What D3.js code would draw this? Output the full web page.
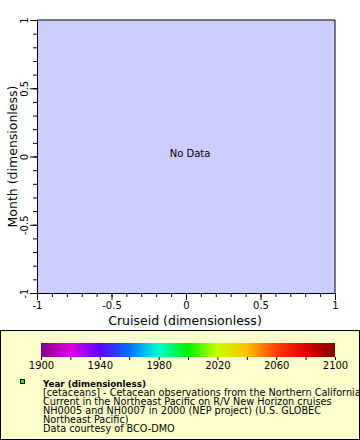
<!DOCTYPE html>
<html><head><meta charset="utf-8">
<script src="https://cdn.jsdelivr.net/npm/d3@7"></script>
<style>body{margin:0;background:#fff}svg{display:block}text{font-family:"DejaVu Sans",sans-serif}</style>
</head><body>
<svg id="c" width="360" height="440"></svg>
<script>
const xDomain = [-1, 1];
const yDomain = [-1, 1];
const xTicks = [-1, -0.5, 0, 0.5, 1];
const yTicks = [-1, -0.5, 0, 0.5, 1];
const xLabel = "Cruiseid (dimensionless)";
const yLabel = "Month (dimensionless)";
const noDataText = "No Data";
const colorYears = [1900, 1920, 1940, 1960, 1980, 2000, 2020, 2040, 2060, 2080, 2100];
const colorStops = ["#800080", "#e000e0", "#6000ff", "#0070ff", "#00ffd0", "#00f000", "#c8ff00", "#ffc000", "#ff4000", "#e00000", "#800000"];
const colorTickLabels = [1900, 1940, 1980, 2020, 2060, 2100];
const legendTitle = "Year (dimensionless)";
const legendLines = [
  "[cetaceans] - Cetacean observations from the Northern California",
  "Current in the Northeast Pacific on R/V New Horizon cruises",
  "NH0005 and NH0007 in 2000 (NEP project) (U.S. GLOBEC",
  "Northeast Pacific)",
  "Data courtesy of BCO-DMO"
];

const svg = d3.select("#c");
const L = 37, R = 335, T = 20, B = 293;
const x = d3.scaleLinear().domain(xDomain).range([L, R]);
const y = d3.scaleLinear().domain(yDomain).range([B, T]);

svg.append("rect").attr("x", L).attr("y", T).attr("width", R - L).attr("height", B - T).attr("fill", "#ccccff");

// minor ticks
const xMinor = d3.range(-10, 11).map(d => d / 10);
const yMinor = d3.range(-10, 11).map(d => d / 10);
svg.append("g").attr("transform", `translate(0,${B})`)
  .call(d3.axisBottom(x).tickValues(xMinor).tickSize(4).tickFormat(""))
  .call(g => g.select(".domain").remove());
svg.append("g").attr("transform", `translate(${L},0)`)
  .call(d3.axisLeft(y).tickValues(yMinor).tickSize(4).tickFormat(""))
  .call(g => g.select(".domain").remove());

const fmt = d => d === 0 ? "0" : String(d);
const xa = svg.append("g").attr("transform", `translate(0,${B})`)
  .call(d3.axisBottom(x).tickValues(xTicks).tickSize(7).tickSizeOuter(0).tickFormat(fmt));
xa.selectAll("text").attr("font-size", 10).attr("fill", "#000").attr("font-family", "DejaVu Sans").attr("y", 9);
const ya = svg.append("g").attr("transform", `translate(${L},0)`)
  .call(d3.axisLeft(y).tickValues(yTicks).tickSize(7).tickSizeOuter(0).tickFormat(fmt));
ya.selectAll("text").attr("font-size", 10).attr("fill", "#000").attr("font-family", "DejaVu Sans")
  .attr("x", null).attr("dy", null).attr("text-anchor", "middle")
  .attr("transform", "translate(-9,0) rotate(-90)");
svg.selectAll(".domain").attr("stroke", "#000");
svg.selectAll(".tick line").attr("stroke", "#000");

// top & right border
svg.append("path").attr("d", `M${L},${T}H${R}V${B}`).attr("fill", "none").attr("stroke", "#000");

svg.append("text").attr("x", 190).attr("y", 157).attr("text-anchor", "middle").attr("font-size", 10).text(noDataText);

svg.append("text").attr("x", 185).attr("y", 325).attr("text-anchor", "middle").attr("font-size", 12.5).text(xLabel);
svg.append("text").attr("transform", `translate(17,${(T + B) / 2}) rotate(-90)`).attr("text-anchor", "middle").attr("font-size", 12.5).text(yLabel);

// legend box
svg.append("rect").attr("x", 0.5).attr("y", 330.5).attr("width", 359).attr("height", 109).attr("fill", "#ffffcc").attr("stroke", "#000");

const cx = d3.scaleLinear().domain([colorYears[0], colorYears[colorYears.length - 1]]).range([41, 335]);
const grad = svg.append("defs").append("linearGradient").attr("id", "g1");
colorYears.forEach((yr, i) => grad.append("stop").attr("offset", (yr - colorYears[0]) / (colorYears[colorYears.length - 1] - colorYears[0])).attr("stop-color", colorStops[i]));
svg.append("rect").attr("x", 41).attr("y", 343).attr("width", 294).attr("height", 14).attr("fill", "url(#g1)");
const ca = svg.append("g").attr("transform", "translate(0,357)")
  .call(d3.axisBottom(cx).tickValues(colorYears).tickSize(3).tickSizeOuter(0).tickFormat(d => colorTickLabels.includes(d) ? d : ""));
ca.select(".domain").remove();
ca.selectAll("line").attr("stroke", "#000");
ca.selectAll("text").attr("font-size", 10).attr("fill", "#000").attr("font-family", "DejaVu Sans").attr("y", 5);

svg.append("rect").attr("x", 20.5).attr("y", 379.5).attr("width", 4).attr("height", 4).attr("fill", "#00ff00").attr("stroke", "#000");
const title = svg.append("text").attr("x", 43).attr("y", 387).attr("font-size", 10).attr("font-weight", "bold").text(legendTitle);
const tw = title.node().getComputedTextLength();
title.attr("font-size", Math.min(10, 10 * 103 / tw));
const lines = legendLines.map((t, i) => svg.append("text").attr("x", 43).attr("y", 395.5 + i * 9).attr("font-size", 10).text(t));
const lw = lines[1].node().getComputedTextLength();
const fs = 10 * 289 / lw;
lines.forEach(l => l.attr("font-size", fs));
</script>
</body></html>
